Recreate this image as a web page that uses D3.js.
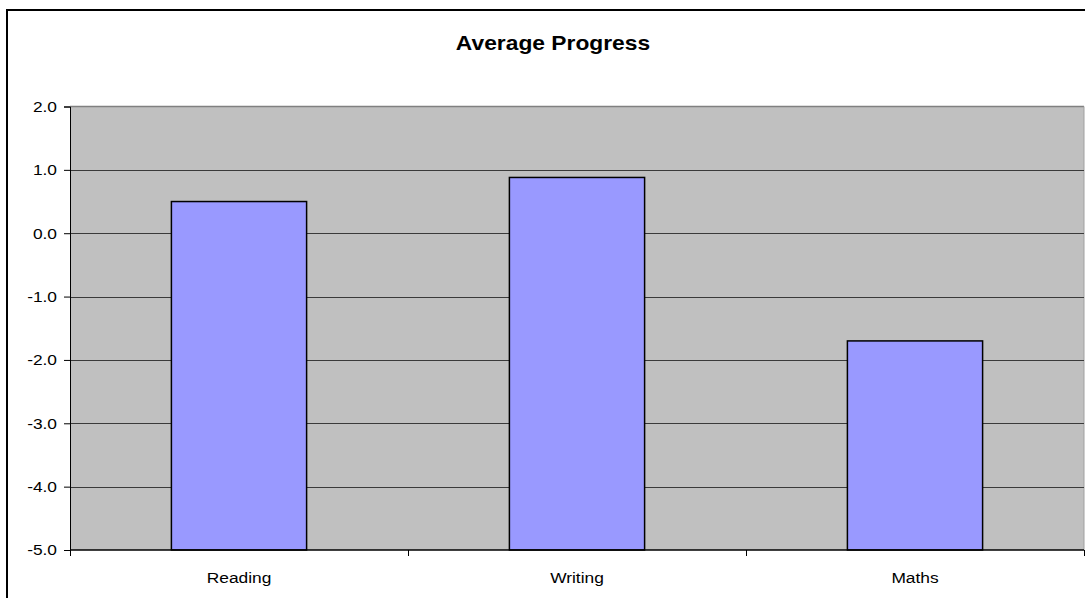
<!DOCTYPE html>
<html><head><meta charset="utf-8">
<script src="https://cdn.jsdelivr.net/npm/d3@7"></script>
<style>body{margin:0;background:#fff}svg{display:block}</style>
</head><body>
<script>
const categories = ["Reading", "Writing", "Maths"];
const values = [0.5, 0.88, -1.7];
const yTicks = [2, 1, 0, -1, -2, -3, -4, -5];
const title = "Average Progress";

const W = 1085, H = 598;
const SX = 1.12;
const FONT = "Liberation Sans, Arial, sans-serif";
const m = {left: 70, right: 1084, top: 106.5, bottom: 550};
const svg = d3.select("body").append("svg").attr("width", W).attr("height", H);

// outer frame
svg.append("rect").attr("x", 7).attr("y", 10).attr("width", 1200).attr("height", 700)
  .attr("fill", "#fff").attr("stroke", "#000").attr("stroke-width", 2);

const x = d3.scaleBand().domain(categories).range([m.left, m.right]).paddingInner(0.6).paddingOuter(0.3);
const xb = d3.scaleBand().domain(categories).range([m.left, m.right]);
const y = d3.scaleLinear().domain([-5, 2]).range([m.bottom, m.top]);

svg.append("rect").attr("x", m.left).attr("y", m.top).attr("width", m.right - m.left).attr("height", m.bottom - m.top)
  .attr("fill", "#c0c0c0");
svg.append("line").attr("x1", m.left).attr("x2", m.right).attr("y1", m.top).attr("y2", m.top)
  .attr("stroke", "#808080").attr("stroke-width", 1.5);
svg.append("line").attr("x1", m.right).attr("x2", m.right).attr("y1", m.top).attr("y2", m.bottom)
  .attr("stroke", "#a0a0a0").attr("stroke-width", 1);

// gridlines
svg.append("g").selectAll("line").data(yTicks.filter(d => d > -5 && d < 2)).join("line")
  .attr("x1", m.left).attr("x2", m.right)
  .attr("y1", d => Math.round(y(d)) + 0.5).attr("y2", d => Math.round(y(d)) + 0.5)
  .attr("stroke", "#3a3a3a").attr("stroke-width", 1);

// bars
svg.append("g").selectAll("rect").data(values).join("rect")
  .attr("x", (d, i) => x(categories[i]))
  .attr("y", d => y(d))
  .attr("width", x.bandwidth())
  .attr("height", d => y(-5) - y(d))
  .attr("fill", "#9999ff").attr("stroke", "#000").attr("stroke-width", 1.5);

// y axis
const yAxis = d3.axisLeft(y).tickValues(yTicks).tickFormat(d => d.toFixed(1)).tickSize(6).tickPadding(6);
const gy = svg.append("g").attr("transform", `translate(${m.left},0)`).call(yAxis);
gy.select(".domain").attr("stroke", "#000").attr("stroke-width", 1);
gy.selectAll(".tick line").attr("stroke", "#000");
gy.selectAll("text").attr("font-family", FONT).attr("font-size", 15.5).attr("fill", "#000")
  .attr("x", -13 / SX).attr("transform", `scale(${SX},1)`);

// x axis
const gx = svg.append("g").attr("transform", `translate(0,${m.bottom})`);
gx.append("line").attr("x1", m.left).attr("x2", m.right).attr("y1", 0).attr("y2", 0)
  .attr("stroke", "#000").attr("stroke-width", 1.5);
const bounds = categories.map(c => xb(c)).concat([m.right]);
gx.selectAll("line.t").data(bounds).join("line").attr("class", "t")
  .attr("x1", d => Math.round(d) + 0.5).attr("x2", d => Math.round(d) + 0.5).attr("y1", 0).attr("y2", 6)
  .attr("stroke", "#000");
gx.selectAll("text").data(categories).join("text")
  .attr("transform", d => `translate(${xb(d) + xb.bandwidth() / 2},33) scale(${SX},1)`)
  .attr("text-anchor", "middle")
  .attr("font-family", FONT).attr("font-size", 15.5).attr("fill", "#000")
  .text(d => d);

svg.append("text").attr("transform", `translate(553,50) scale(1.14,1)`).attr("text-anchor", "middle")
  .attr("font-family", FONT).attr("font-size", 20).attr("font-weight", "bold")
  .text(title);
</script>
</body></html>
